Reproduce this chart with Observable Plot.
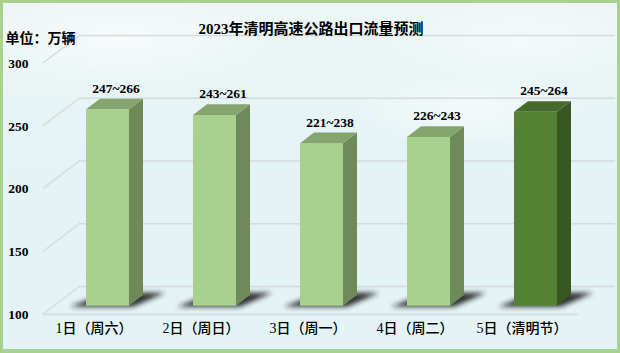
<!DOCTYPE html>
<html><head><meta charset="utf-8">
<script src="https://cdn.jsdelivr.net/npm/d3@7"></script>
<script src="https://cdn.jsdelivr.net/npm/@observablehq/plot@0.6"></script>
<style>
html,body{margin:0;padding:0;background:#fff;}
#wrap{position:relative;width:620px;height:353px;overflow:hidden;
 background:
  radial-gradient(ellipse 120px 40px at 470px 110px, rgba(255,255,255,0.55), rgba(255,255,255,0)),
  radial-gradient(ellipse 160px 50px at 120px 40px, rgba(255,255,255,0.6), rgba(255,255,255,0)),
  radial-gradient(ellipse 140px 45px at 520px 40px, rgba(255,255,255,0.5), rgba(255,255,255,0)),
  linear-gradient(#edf6f5, #e4f3f5 45%, #e3f3f6);}
#wrap svg{position:absolute;left:0;top:0;}
#border{position:absolute;left:0;top:0;width:620px;height:353px;box-sizing:border-box;border:3px solid #a9d18e;border-bottom-width:4px;pointer-events:none;}
</style></head><body><div id="wrap"><div id="border"></div></div>
<script>
// ---- data ----
const days = ["1日（周六）", "2日（周日）", "3日（周一）", "4日（周二）", "5日（清明节）"];
const low = [247, 243, 221, 226, 245];
const high = [266, 261, 238, 243, 264];
const barValues = [256.5, 252, 229.5, 234.5, 254.5];
const holiday = "5日（清明节）";
const yTicks = [100, 150, 200, 250, 300];
const title = "2023年清明高速公路出口流量预测";
const unitLabel = "单位：万辆";

// ---- style constants ----
const FONT = '"Liberation Serif", "Times New Roman", "Noto Sans CJK SC", serif';
const GRID = "#d6dbdb";
const WALL_DX = 37, WALL_DY = -28;   // back-wall offset
const BAR_DX = 11, BAR_DY = -8.3;    // bar front face offset
const DEPTH_DX = 14, DEPTH_DY = -10.6; // bar depth
const PAL = {
  light: {front: "#a9d18e", side: "#6e8a5a", top: "#86a56e"},
  dark:  {front: "#548235", side: "#385723", top: "#456b2b"}
};

const rows = days.map((d, i) => ({day: d, value: barValues[i], label: `${low[i]}~${high[i]}`, hl: d === holiday}));

const chart = Plot.plot({
  width: 620, height: 353,
  marginLeft: 43, marginRight: 42, marginTop: 63, marginBottom: 39,
  style: {background: "transparent", fontFamily: FONT, overflow: "visible", color: "#000"},
  x: {type: "band", domain: days, paddingInner: 0.6, paddingOuter: 0.3, axis: null},
  y: {domain: [yTicks[0], yTicks[yTicks.length - 1]], axis: null},
  color: {type: "identity"},
  marks: [
    Plot.ruleY(yTicks, {dx: WALL_DX, dy: WALL_DY, stroke: GRID, strokeWidth: 1.5}),
    Plot.ruleY([yTicks[0]], {stroke: GRID, strokeWidth: 1.5}),
    Plot.barY(rows, {x: "day", y1: () => yTicks[0], y2: "value", dx: BAR_DX, dy: BAR_DY,
      fill: d => d.hl ? PAL.dark.front : PAL.light.front}),
    Plot.text(rows, {x: "day", y: "value", text: "label", dx: 19, dy: -29.6, fontSize: 13.5, fontWeight: "bold", fill: "#000"}),
    Plot.text(rows, {x: "day", text: "day", frameAnchor: "bottom", dy: 18, dx: -3, fontSize: 14, fontWeight: 500, fill: "#000"}),
    Plot.text(yTicks, {y: d => d, text: d => String(d), frameAnchor: "left", textAnchor: "end", dx: -15, fontSize: 13.5, fontWeight: "bold", fill: "#000"}),
    Plot.text([title], {frameAnchor: "top", dy: -40, fontSize: 15, fontWeight: "bold", fill: "#000"}),
    Plot.text([unitLabel], {frameAnchor: "top-left", textAnchor: "start", dx: -38, dy: -30, fontSize: 14, fontWeight: "bold", fill: "#000"})
  ]
});

document.getElementById("wrap").insertBefore(chart, document.getElementById("border"));

// ---- 3D decoration derived from rendered scales ----
const svg = d3.select(chart);
const defs = svg.insert("defs", ":first-child");
defs.append("filter").attr("id", "shadowBlur").attr("x", "-50%").attr("y", "-50%").attr("width", "200%").attr("height", "200%")
  .append("feGaussianBlur").attr("stdDeviation", 2.6);

// left wall diagonals
const ys = chart.scale("y");
const yScale = d3.scaleLinear(ys.domain, ys.range);
const xLeft = 43;
const diagG = svg.insert("g", "g").attr("stroke", GRID).attr("stroke-width", 1.5);
yTicks.forEach(t => {
  diagG.append("line").attr("x1", xLeft).attr("y1", yScale(t)).attr("x2", xLeft + WALL_DX).attr("y2", yScale(t) + WALL_DY);
});

const rects = svg.selectAll('g[aria-label="bar"] rect').nodes();
rects.forEach((r, i) => {
  const g = d3.select(r.parentNode);
  const x = +r.getAttribute("x"), y = +r.getAttribute("y"), w = +r.getAttribute("width"), h = +r.getAttribute("height");
  const pal = rows[i].hl ? PAL.dark : PAL.light;
  const yb = y + h;
  g.insert("polygon", ":first-child")
    .attr("points", [[x - 16, yb + 1], [x + w + 4, yb + 1], [x + w + 36, yb - 13], [x + 20, yb - 13]].map(p => p.join(",")).join(" "))
    .attr("fill", "#1a1a1a").attr("opacity", 0.9).attr("filter", "url(#shadowBlur)");
  g.append("polygon")
    .attr("points", [[x + w, y], [x + w + DEPTH_DX, y + DEPTH_DY], [x + w + DEPTH_DX, yb + DEPTH_DY], [x + w, yb]].map(p => p.join(",")).join(" "))
    .attr("fill", pal.side);
  g.append("polygon")
    .attr("points", [[x, y], [x + DEPTH_DX, y + DEPTH_DY], [x + w + DEPTH_DX, y + DEPTH_DY], [x + w, y]].map(p => p.join(",")).join(" "))
    .attr("fill", pal.top);
});
// put the text labels on top of all bar parts
svg.selectAll('g[aria-label="text"]').raise();
</script>
</body></html>
